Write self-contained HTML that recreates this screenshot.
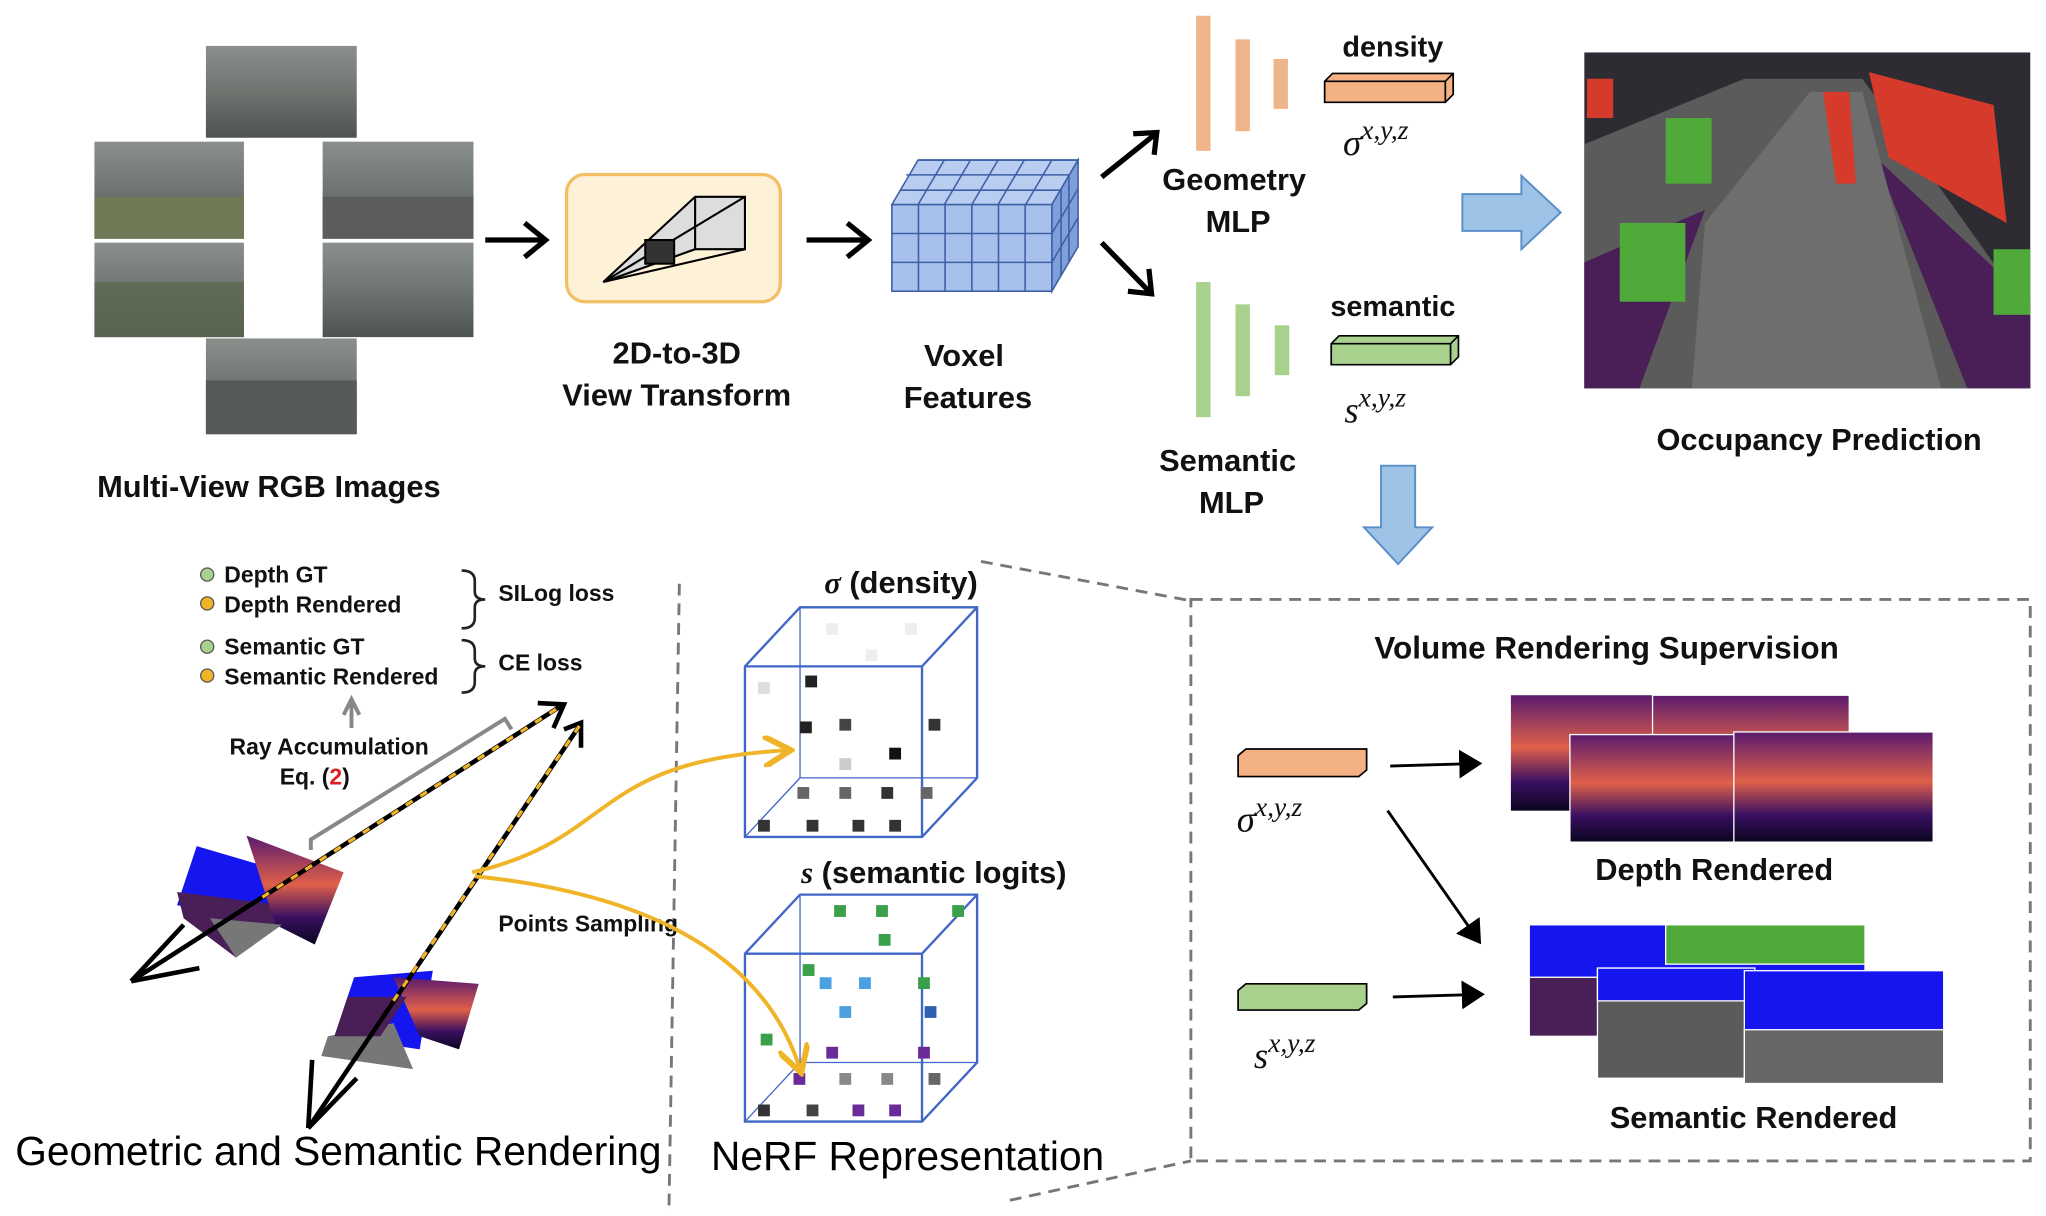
<!DOCTYPE html>
<html><head><meta charset="utf-8"><style>
html,body{margin:0;padding:0;background:#fff;}
svg{display:block;}
text{font-family:"Liberation Sans","DejaVu Sans",sans-serif;}
.b{font-weight:bold;font-size:23.5px;text-anchor:middle;fill:#111;}
.m{font-family:"Liberation Serif",serif;font-style:italic;font-size:28px;fill:#111;}
</style></head><body>
<svg width="2046" height="1216" viewBox="0 0 1560 927" preserveAspectRatio="none" xmlns="http://www.w3.org/2000/svg">
<defs>
<marker id="ah2" markerWidth="10" markerHeight="10" refX="7" refY="5" orient="auto" markerUnits="strokeWidth"><path d="M0,0 L8,5 L0,10 z" fill="#000"/></marker>
<marker id="ya" markerWidth="8" markerHeight="8" refX="6" refY="4" orient="auto" markerUnits="strokeWidth"><path d="M0,0 L7,4 L0,8" fill="none" stroke="#f0b429" stroke-width="1.5"/></marker>
<linearGradient id="sky" x1="0" y1="0" x2="0" y2="1"><stop offset="0" stop-color="#8a8f8c"/><stop offset="0.5" stop-color="#6e7570"/><stop offset="1" stop-color="#4d5350"/></linearGradient>
<linearGradient id="dep" x1="0" y1="0" x2="0" y2="1"><stop offset="0" stop-color="#5a1a6e"/><stop offset="0.45" stop-color="#e0604a"/><stop offset="0.75" stop-color="#3a1060"/><stop offset="1" stop-color="#0a0520"/></linearGradient>
</defs>
<g stroke="none">
<rect x="157" y="35" width="115" height="70" fill="url(#sky)"/>
<rect x="72" y="108" width="114" height="74" fill="url(#sky)"/>
<rect x="72" y="185" width="114" height="72" fill="url(#sky)"/>
<rect x="246" y="108" width="115" height="74" fill="url(#sky)"/>
<rect x="246" y="185" width="115" height="72" fill="url(#sky)"/>
<rect x="157" y="258" width="115" height="73" fill="url(#sky)"/>
<rect x="72" y="150" width="114" height="32" fill="#6d7a55"/>
<rect x="72" y="215" width="114" height="42" fill="#5b6650" opacity="0.8"/>
<rect x="246" y="150" width="115" height="32" fill="#5a5d5a"/>
<rect x="157" y="290" width="115" height="41" fill="#555a56"/>
</g>
<text x="205" y="379" class="b">Multi-View RGB Images</text>
<g stroke="#000" stroke-width="4" fill="none">
<path d="M370,183 L414,183 M400,170 L416,183 L400,196"/>
<path d="M615,183 L660,183 M646,170 L662,183 L646,196"/>
<path d="M840,135 L880,103 M864,102 L882,101 L880,118"/>
<path d="M840,185 L876,222 M876,205 L878,224 L860,222"/>
</g>
<rect x="432" y="133" width="163" height="97" rx="14" fill="#fdf1d8" stroke="#f2c064" stroke-width="2.5"/>
<g stroke="#000" stroke-width="1.6" fill="none">
<path d="M460,215 L530,150 L568,150 L568,190 L530,190 Z" fill="#ddd"/>
<path d="M530,150 L530,190"/>
<path d="M460,215 L568,150 M460,215 L568,190"/>
<rect x="492" y="183" width="22" height="18" fill="#333"/>
</g>
<text x="516" y="277" class="b">2D-to-3D</text>
<text x="516" y="309" class="b">View Transform</text>
<g stroke="#3d5fa8" stroke-width="1.2">
<path d="M680,156 L700,122 L822,122 L802,156 Z" fill="#b9cdf0"/>
<path d="M802,156 L822,122 L822,188 L802,222 Z" fill="#7f9fd8"/>
<rect x="680" y="156" width="122" height="66" fill="#a8c0ec"/>
<path d="M700.3,156 V222 M720.6,156 V222 M741,156 V222 M761.3,156 V222 M781.6,156 V222 M680,178 H802 M680,200 H802"/>
<path d="M700,122 H822 M687,145 H809 M691,133.3 H815 M720,122 L700,156 M740,122 L720,156 M761,122 L741,156 M781,122 L761,156 M802,122 L782,156"/>
<path d="M802,178 L822,144 M802,200 L822,166 M809,144 L809,210 M815,133 L815,199"/>
</g>
<text x="735" y="279" class="b">Voxel</text>
<text x="738" y="311" class="b">Features</text>
<rect x="912" y="12" width="11" height="103" fill="#efb58a"/>
<rect x="942" y="30" width="11" height="70" fill="#efb58a"/>
<rect x="971" y="45" width="11" height="38" fill="#efb58a"/>
<rect x="912" y="215" width="11" height="103" fill="#a9d18e"/>
<rect x="942" y="232" width="11" height="70" fill="#a9d18e"/>
<rect x="972" y="248" width="11" height="38" fill="#a9d18e"/>
<text x="941" y="145" class="b">Geometry</text>
<text x="944" y="177" class="b">MLP</text>
<text x="936" y="359" class="b">Semantic</text>
<text x="939" y="391" class="b">MLP</text>
<text x="1062" y="43" class="b" style="font-size:22px">density</text>
<path d="M1010,62 L1016,56 L1108,56 L1108,72 L1102,78 L1010,78 Z" fill="#f4b183" stroke="#000" stroke-width="1.3"/>
<path d="M1102,62 L1108,56 M1102,62 V78 M1010,62 H1102" stroke="#000" fill="none" stroke-width="1.3"/>
<text x="1024" y="118" class="m">σ<tspan dy="-12" font-size="21">x,y,z</tspan></text>
<text x="1062" y="241" class="b" style="font-size:22px">semantic</text>
<path d="M1015,262 L1021,256 L1112,256 L1112,272 L1106,278 L1015,278 Z" fill="#a9d18e" stroke="#000" stroke-width="1.3"/>
<path d="M1106,262 L1112,256 M1106,262 V278 M1015,262 H1106" stroke="#000" fill="none" stroke-width="1.3"/>
<text x="1025" y="322" class="m">s<tspan dy="-12" font-size="21">x,y,z</tspan></text>
<path d="M1115,148 L1160,148 L1160,134 L1190,162 L1160,190 L1160,176 L1115,176 Z" fill="#9dc3e6" stroke="#5b8fc7" stroke-width="1.5"/>
<rect x="1208" y="40" width="340" height="256" fill="#2e2b33"/>
<path d="M1208,110 L1330,60 L1420,60 L1548,240 L1548,296 L1208,296 Z" fill="#5b5b5b"/>
<path d="M1208,200 L1300,160 L1250,296 L1208,296 Z" fill="#4a1e56"/>
<path d="M1430,120 L1548,230 L1548,296 L1500,296 Z" fill="#4a1e56"/>
<path d="M1300,170 L1380,70 L1420,70 L1480,296 L1290,296 Z" fill="#6e6e6e"/>
<path d="M1425,55 L1520,80 L1530,170 L1440,120 Z" fill="#d63a2a"/>
<path d="M1390,70 L1410,70 L1415,140 L1400,140 Z" fill="#d63a2a"/>
<rect x="1235" y="170" width="50" height="60" fill="#4faa3a"/>
<rect x="1270" y="90" width="35" height="50" fill="#4faa3a"/>
<rect x="1520" y="190" width="28" height="50" fill="#4faa3a"/>
<rect x="1210" y="60" width="20" height="30" fill="#d63a2a"/>
<text x="1387" y="343" class="b">Occupancy Prediction</text>
<path d="M1053,355 L1079,355 L1079,402 L1092,402 L1066,430 L1040,402 L1053,402 Z" fill="#9dc3e6" stroke="#5b8fc7" stroke-width="1.5"/>
<g stroke="#777" stroke-width="2.2" stroke-dasharray="9,6" fill="none">
<rect x="908" y="457" width="640" height="428"/>
<path d="M748,428 L908,458 M770,915 L908,885 M518,445 L510,925"/>
</g>
<text x="1225" y="502" class="b" style="font-size:24px">Volume Rendering Supervision</text>
<path d="M944,576 L950,571 L1042,571 L1042,587 L1036,592 L944,592 Z" fill="#f4b183" stroke="#000" stroke-width="1.3"/>
<text x="943" y="634" class="m">σ<tspan dy="-12" font-size="21">x,y,z</tspan></text>
<path d="M944,755 L950,750 L1042,750 L1042,765 L1036,770 L944,770 Z" fill="#a9d18e" stroke="#000" stroke-width="1.3"/>
<text x="956" y="814" class="m">s<tspan dy="-12" font-size="21">x,y,z</tspan></text>
<g stroke="#000" stroke-width="2.2" marker-end="url(#ah2)">
<line x1="1060" y1="584" x2="1128" y2="582"/>
<line x1="1058" y1="618" x2="1128" y2="718"/>
<line x1="1062" y1="760" x2="1130" y2="758"/>
</g>
<rect x="1152" y="530" width="112" height="88" fill="url(#dep)"/>
<rect x="1260" y="530" width="150" height="88" fill="url(#dep)" stroke="#fff"/>
<rect x="1197" y="560" width="135" height="82" fill="url(#dep)" stroke="#fff"/>
<rect x="1322" y="558" width="152" height="84" fill="url(#dep)" stroke="#fff"/>
<text x="1307" y="671" class="b">Depth Rendered</text>
<g stroke="#fff">
<rect x="1166" y="705" width="256" height="85" fill="#1515f0"/>
<rect x="1166" y="745" width="256" height="45" fill="#4a1e56"/>
<rect x="1270" y="705" width="152" height="30" fill="#4faa3a"/>
<rect x="1218" y="738" width="120" height="84" fill="#5b5b5b"/>
<rect x="1218" y="738" width="120" height="25" fill="#1515f0"/>
<rect x="1330" y="740" width="152" height="86" fill="#1515f0"/>
<rect x="1330" y="785" width="152" height="41" fill="#666"/>
</g>
<text x="1337" y="860" class="b">Semantic Rendered</text>
<g stroke="#4166c8" stroke-width="1.8" fill="none">
<path d="M568,508 L610,463 L745,463 L745,593 L703,638 L568,638 Z M568,508 L703,508 L745,463 M703,508 V638"/>
<path d="M610,463 V593 H745 M610,593 L568,638" stroke-width="1"/>
<path d="M568,727 L610,682 L745,682 L745,810 L703,855 L568,855 Z M568,727 L703,727 L745,682 M703,727 V855"/>
<path d="M610,682 V810 H745 M610,810 L568,855" stroke-width="1"/>
</g>
<g>
<rect x="578" y="625" width="9" height="9" fill="#333"/><rect x="615" y="625" width="9" height="9" fill="#333"/><rect x="650" y="625" width="9" height="9" fill="#333"/><rect x="678" y="625" width="9" height="9" fill="#333"/>
<rect x="608" y="600" width="9" height="9" fill="#666"/><rect x="640" y="600" width="9" height="9" fill="#666"/><rect x="672" y="600" width="9" height="9" fill="#333"/><rect x="702" y="600" width="9" height="9" fill="#666"/>
<rect x="614" y="515" width="9" height="9" fill="#222"/><rect x="578" y="520" width="9" height="9" fill="#ddd"/><rect x="610" y="550" width="9" height="9" fill="#222"/><rect x="640" y="548" width="9" height="9" fill="#444"/><rect x="678" y="570" width="9" height="9" fill="#111"/><rect x="708" y="548" width="9" height="9" fill="#333"/><rect x="640" y="578" width="9" height="9" fill="#ccc"/>
<rect x="630" y="475" width="9" height="9" fill="#eee"/><rect x="690" y="475" width="9" height="9" fill="#eee"/><rect x="660" y="495" width="9" height="9" fill="#eee"/>
<rect x="578" y="842" width="9" height="9" fill="#333"/><rect x="615" y="842" width="9" height="9" fill="#444"/><rect x="650" y="842" width="9" height="9" fill="#6a2a9a"/><rect x="678" y="842" width="9" height="9" fill="#6a2a9a"/>
<rect x="605" y="818" width="9" height="9" fill="#6a2a9a"/><rect x="640" y="818" width="9" height="9" fill="#888"/><rect x="672" y="818" width="9" height="9" fill="#888"/><rect x="708" y="818" width="9" height="9" fill="#666"/>
<rect x="630" y="798" width="9" height="9" fill="#6a2a9a"/><rect x="700" y="798" width="9" height="9" fill="#6a2a9a"/><rect x="580" y="788" width="9" height="9" fill="#3aa04a"/>
<rect x="625" y="745" width="9" height="9" fill="#4aa0e0"/><rect x="655" y="745" width="9" height="9" fill="#4aa0e0"/><rect x="700" y="745" width="9" height="9" fill="#3aa04a"/><rect x="640" y="767" width="9" height="9" fill="#4aa0e0"/><rect x="705" y="767" width="9" height="9" fill="#3060b0"/><rect x="612" y="735" width="9" height="9" fill="#3aa04a"/>
<rect x="636" y="690" width="9" height="9" fill="#3aa04a"/><rect x="668" y="690" width="9" height="9" fill="#3aa04a"/><rect x="726" y="690" width="9" height="9" fill="#3aa04a"/><rect x="670" y="712" width="9" height="9" fill="#3aa04a"/>
</g>
<text x="687" y="452" class="b"><tspan font-style="italic" font-family="Liberation Serif,serif">σ</tspan> (density)</text>
<text x="712" y="673" class="b"><tspan font-style="italic" font-family="Liberation Serif,serif">s</tspan> (semantic logits)</text>
<text x="692" y="892" style="font-size:31px;text-anchor:middle">NeRF Representation</text>
<g font-size="17.5" font-weight="bold" fill="#111">
<circle cx="158" cy="438" r="5" fill="#a9d18e" stroke="#555"/><text x="171" y="444">Depth GT</text>
<circle cx="158" cy="460" r="5" fill="#f0b429" stroke="#555"/><text x="171" y="467">Depth Rendered</text>
<circle cx="158" cy="493" r="5" fill="#a9d18e" stroke="#555"/><text x="171" y="499">Semantic GT</text>
<circle cx="158" cy="515" r="5" fill="#f0b429" stroke="#555"/><text x="171" y="522">Semantic Rendered</text>
<text x="380" y="458">SILog loss</text>
<text x="380" y="511">CE loss</text>
<text x="251" y="575" text-anchor="middle">Ray Accumulation</text>
<text x="240" y="598" text-anchor="middle">Eq. (<tspan fill="#e02020">2</tspan>)</text>
<text x="380" y="710">Points Sampling</text>
</g>
<path d="M352,435 q10,0 10,8 v8 q0,6 8,6 q-8,0 -8,6 v8 q0,8 -10,8 M352,488 q10,0 10,8 v6 q0,6 8,6 q-8,0 -8,6 v6 q0,8 -10,8" fill="none" stroke="#222" stroke-width="2"/>
<path d="M268,555 V535 M262,545 L268,533 L274,545" stroke="#888" stroke-width="3" fill="none"/>
<path d="M237,648 L237,640 L385,548 L390,556" stroke="#888" stroke-width="3" fill="none"/>
<path d="M150,645 L235,670 L210,705 L135,690 Z" fill="#1515f0"/>
<path d="M135,680 L215,690 L210,705 L180,730 L140,700 Z" fill="#4a1e56"/>
<path d="M188,637 L262,665 L240,720 L210,705 Z" fill="url(#dep)"/>
<path d="M160,700 L215,705 L180,730 Z" fill="#777"/>
<path d="M270,745 L330,740 L320,800 L255,790 Z" fill="#1515f0"/>
<path d="M300,745 L365,750 L350,800 L320,790 Z" fill="url(#dep)"/>
<path d="M250,790 L300,780 L315,815 L245,805 Z" fill="#777"/>
<path d="M265,760 L310,760 L290,790 L255,790 Z" fill="#4a1e56"/>
<g stroke="#000" stroke-width="3.5" fill="none">
<line x1="100" y1="748" x2="428" y2="538"/>
<line x1="235" y1="860" x2="442" y2="553"/>
<path d="M100,748 L140,705 M100,748 L152,738"/>
<path d="M235,860 L238,808 M235,860 L272,822"/>
<path d="M410,536 L430,537 L422,555"/>
<path d="M430,556 L443,551 L443,570"/>
</g>
<g stroke="#f0b429" stroke-width="2.5" stroke-dasharray="6,7" fill="none">
<line x1="200" y1="684" x2="428" y2="538"/>
<line x1="300" y1="763" x2="442" y2="553"/>
</g>
<path d="M360,665 C470,640 450,580 600,572" stroke="#f0b429" stroke-width="3" fill="none" marker-end="url(#ya)"/>
<path d="M362,668 C480,680 580,720 610,815" stroke="#f0b429" stroke-width="3" fill="none" marker-end="url(#ya)"/>
<text x="258" y="888" style="font-size:31px;text-anchor:middle">Geometric and Semantic Rendering</text>
</svg>
</body></html>
